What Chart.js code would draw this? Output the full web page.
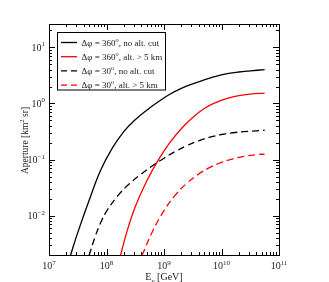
<!DOCTYPE html>
<html>
<head>
<meta charset="utf-8">
<script src="https://cdn.jsdelivr.net/npm/chart.js@4.4.0/dist/chart.umd.min.js"></script>
<style>
html,body{margin:0;padding:0;background:#fff;}
#wrap{width:329px;height:282px;}
</style>
</head>
<body>
<div id="wrap"><canvas id="c" width="329" height="282"></canvas></div>
<script>
// ---- data ----
const seriesNames = ['Δφ = 360°, no alt. cut', 'Δφ = 360°, alt. > 5 km', 'Δφ = 30°, no alt. cut', 'Δφ = 30°, alt. > 5 km'];
const seriesColors = ['#000000', '#ff0000', '#000000', '#ff0000'];
const seriesDashed = [false, false, true, true];

const energy360 = [2.36e7, 3.16e7, 5.01e7, 7.94e7, 1.26e8, 2.0e8, 3.16e8, 5.01e8, 7.94e8, 1.26e9, 2.0e9, 3.16e9, 5.01e9, 7.94e9, 1.26e10, 2.0e10, 3.16e10, 5.62e10];
const aperture360 = [0.00196, 0.00501, 0.0191, 0.0650, 0.160, 0.316, 0.513, 0.759, 1.07, 1.46, 1.86, 2.24, 2.63, 3.05, 3.39, 3.63, 3.80, 4.0];

const energy360Alt = [1.75e8, 2.24e8, 3.16e8, 5.01e8, 7.94e8, 1.26e9, 2.0e9, 3.16e9, 5.01e9, 7.94e9, 1.26e10, 2.0e10, 3.16e10, 5.62e10];
const aperture360Alt = [0.00196, 0.00501, 0.0145, 0.0417, 0.0977, 0.200, 0.355, 0.562, 0.813, 1.035, 1.23, 1.38, 1.47, 1.53];

const energy30 = [4.97e7, 6.31e7, 7.94e7, 1e8, 1.58e8, 2.51e8, 3.98e8, 6.31e8, 1e9, 1.58e9, 2.51e9, 3.98e9, 6.31e9, 1e10, 1.58e10, 2.82e10, 5.62e10];
const aperture30 = [0.00196, 0.00417, 0.00759, 0.0120, 0.0229, 0.0372, 0.0550, 0.0776, 0.106, 0.140, 0.178, 0.216, 0.251, 0.280, 0.301, 0.318, 0.333];

const energy30Alt = [4.15e8, 6.31e8, 1e9, 1.58e9, 2.51e9, 3.98e9, 6.31e9, 1e10, 1.58e10, 2.51e10, 3.98e10, 5.62e10];
const aperture30Alt = [0.00196, 0.00526, 0.0123, 0.0235, 0.0381, 0.0551, 0.0726, 0.0893, 0.1035, 0.1146, 0.1222, 0.1256];

const xTickValues = [1e7, 1e8, 1e9, 1e10, 1e11];
const xTickExponents = ['7', '8', '9', '10', '11'];
const yTickValues = [0.01, 0.1, 1, 10];
const yTickExponents = ['-2', '-1', '0', '1'];
const xTitle = ['E', 'ν', ' [GeV]'];
const yTitle = ['Aperture [km', '2', ' sr]'];

const xMin = 1e7, xMax = 1e11, yMin = 0.002, yMax = 26;

// ---- helpers ----
const FONT = '"Liberation Serif", "Times New Roman", serif';
function drawRich(ctx, parts, x, y, align) {
  let total = 0;
  const widths = parts.map(p => {
    ctx.font = (p.mode === 'n' ? p.size : p.size * 0.7) + 'px ' + FONT;
    const w = ctx.measureText(p.t).width;
    total += w; return w;
  });
  let cx = align === 'center' ? x - total / 2 : (align === 'right' ? x - total : x);
  parts.forEach((p, i) => {
    const s = p.mode === 'n' ? p.size : p.size * 0.7;
    ctx.font = s + 'px ' + FONT;
    let dy = 0;
    if (p.mode === 'sup') dy = -p.size * 0.45;
    if (p.mode === 'sub') dy = p.size * 0.25;
    ctx.fillText(p.t, cx, y + dy);
    cx += widths[i];
  });
  return total;
}
function nameParts(name, size) {
  const i = name.indexOf('°');
  return [{t: name.slice(0, i), mode: 'n', size}, {t: 'o', mode: 'sup', size}, {t: name.slice(i + 1), mode: 'n', size}];
}

const framePlugin = {
  id: 'frame',
  afterDraw(chart) {
    const ctx = chart.ctx, a = chart.chartArea;
    const xs = chart.scales.x, ys = chart.scales.y;
    ctx.save();
    ctx.strokeStyle = '#000'; ctx.lineWidth = 1;
    const majL = 6, minL = 3;
    ctx.beginPath();
    for (let e = 7; e <= 11; e++) {
      for (let m = 1; m <= 9; m++) {
        const v = m * Math.pow(10, e);
        if (v < xMin || v > xMax) continue;
        const px = Math.round(xs.getPixelForValue(v)) + 0.5;
        const L = m === 1 ? majL : minL;
        ctx.moveTo(px, a.bottom); ctx.lineTo(px, a.bottom - L);
        ctx.moveTo(px, a.top); ctx.lineTo(px, a.top + L);
      }
    }
    for (let e = -3; e <= 1; e++) {
      for (let m = 1; m <= 9; m++) {
        const v = m * Math.pow(10, e);
        if (v < yMin - 1e-12 || v > yMax) continue;
        const py = Math.round(ys.getPixelForValue(v)) + 0.5;
        const L = m === 1 ? majL : minL;
        ctx.moveTo(a.left, py); ctx.lineTo(a.left + L, py);
        ctx.moveTo(a.right, py); ctx.lineTo(a.right - L, py);
      }
    }
    ctx.stroke();
    ctx.strokeRect(Math.round(a.left) + 0.5, Math.round(a.top) + 0.5, Math.round(a.right - a.left), Math.round(a.bottom - a.top));
    // tick labels
    ctx.fillStyle = '#222'; ctx.textBaseline = 'alphabetic';
    xTickValues.forEach((v, i) => {
      const px = xs.getPixelForValue(v);
      drawRich(ctx, [{t: '10', mode: 'n', size: 10}, {t: xTickExponents[i], mode: 'sup', size: 10}], px, a.bottom + 14, 'center');
    });
    yTickValues.forEach((v, i) => {
      const py = ys.getPixelForValue(v);
      drawRich(ctx, [{t: '10', mode: 'n', size: 10}, {t: yTickExponents[i].replace('-', '\u2212'), mode: 'sup', size: 10}], a.left - 4, py + 3.5, 'right');
    });
    // axis titles
    drawRich(ctx, [{t: xTitle[0], mode: 'n', size: 10}, {t: xTitle[1], mode: 'sub', size: 10}, {t: xTitle[2], mode: 'n', size: 10}], (a.left + a.right) / 2, a.bottom + 25, 'center');
    ctx.save();
    ctx.translate(28, (a.top + a.bottom) / 2 + 1);
    ctx.rotate(-Math.PI / 2);
    drawRich(ctx, [{t: yTitle[0], mode: 'n', size: 9.5}, {t: yTitle[1], mode: 'sup', size: 9.5}, {t: yTitle[2], mode: 'n', size: 9.5}], 0, 0, 'center');
    ctx.restore();
    // legend
    const lx = 57.5, ly = 32.5, lw = 108, lh = 57.5;
    ctx.fillStyle = '#fff';
    ctx.fillRect(lx, ly, lw, lh);
    ctx.strokeStyle = '#000'; ctx.lineWidth = 1;
    ctx.strokeRect(lx, ly, lw, lh);
    seriesNames.forEach((n, i) => {
      const ry = 42.5 + i * 14.2;
      ctx.beginPath();
      ctx.strokeStyle = seriesColors[i]; ctx.lineWidth = 1.3;
      ctx.setLineDash(seriesDashed[i] ? [6, 4] : []);
      ctx.moveTo(61, ry); ctx.lineTo(77, ry); ctx.stroke();
      ctx.setLineDash([]);
      ctx.fillStyle = '#222';
      drawRich(ctx, nameParts(n, 9), 81.5, ry + 3.2, 'left');
    });
    ctx.restore();
  }
};

function mk(E, A) { return E.map((x, i) => ({x, y: A[i]})); }
const seriesData = [mk(energy360, aperture360), mk(energy360Alt, aperture360Alt), mk(energy30, aperture30), mk(energy30Alt, aperture30Alt)];

new Chart(document.getElementById('c'), {
  type: 'line',
  data: {
    datasets: seriesNames.map((n, i) => ({
      label: n,
      data: seriesData[i],
      borderColor: seriesColors[i],
      borderWidth: 1.3,
      borderDash: seriesDashed[i] ? [7, 4] : [],
      pointRadius: 0,
      fill: false,
      tension: 0.4
    }))
  },
  options: {
    responsive: false,
    animation: false,
    events: [],
    layout: {padding: {left: 49, top: 24, right: 50, bottom: 27}},
    plugins: {legend: {display: false}, tooltip: {enabled: false}},
    scales: {
      x: {type: 'logarithmic', min: xMin, max: xMax, display: false},
      y: {type: 'logarithmic', min: yMin, max: yMax, display: false}
    }
  },
  plugins: [framePlugin]
});
</script>
</body>
</html>
